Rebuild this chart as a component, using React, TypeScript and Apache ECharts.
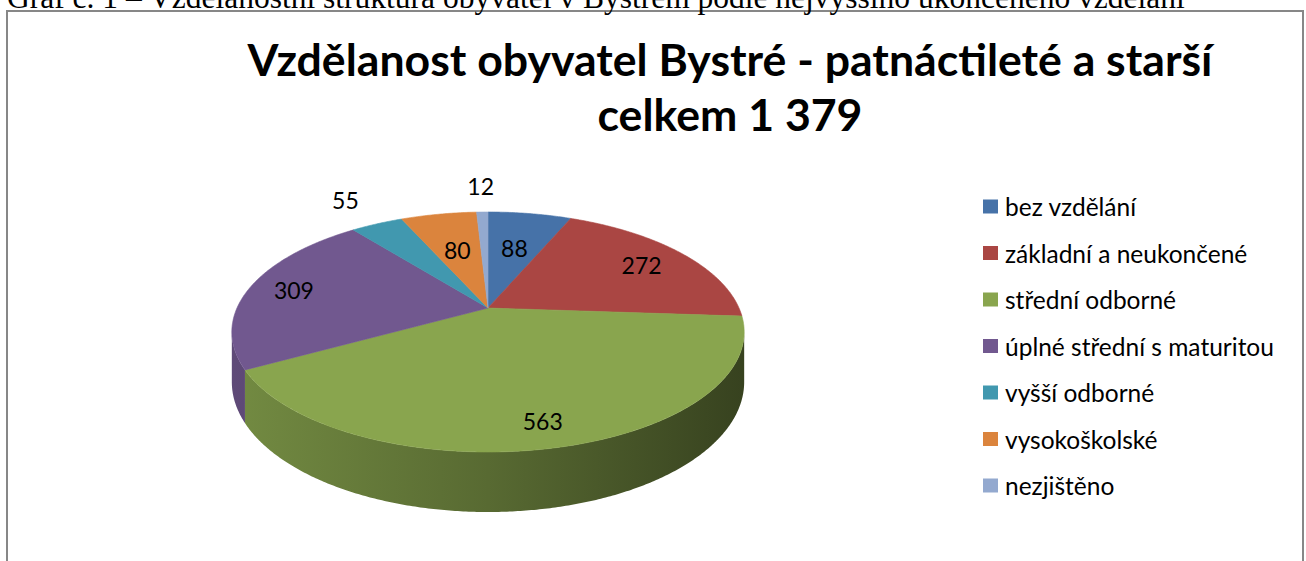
import React, { useEffect, useRef } from "react";
import * as echarts from "echarts";

const categories = [
  "bez vzdělání",
  "základní a neukončené",
  "střední odborné",
  "úplné střední s maturitou",
  "vyšší odborné",
  "vysokoškolské",
  "nezjištěno",
];
const values = [88, 272, 563, 309, 55, 80, 12];
const colors = ["#4672A8", "#AA4643", "#89A54E", "#71588F", "#4198AF", "#DB843D", "#93A9CF"];
const titleLines = ["Vzdělanost obyvatel Bystré - patnáctileté a starší", "celkem 1 379"];
const caption =
  "Graf č. 1 – Vzdělanostní struktura obyvatel v Bystřem podle nejvyššího ukončeného vzdělání";

// perspective projection of the unit disk
const CX = 488;
const PA = 308;
const PB = 53.6;
const PC = -0.2;
const PD = 251;
const DEPTH = 48;

function proj(u: number, v: number, drop = 0) {
  const d = 1 + PC * v;
  return [CX + (PD * u) / d, (PA + PB * v) / d + drop / d];
}
function polar(theta: number, r: number, drop = 0) {
  return proj(r * Math.sin(theta), -r * Math.cos(theta), drop);
}

function shade(hex: string, f: number) {
  const n = parseInt(hex.slice(1), 16);
  const r = Math.round(((n >> 16) & 255) * f);
  const g = Math.round(((n >> 8) & 255) * f);
  const b = Math.round((n & 255) * f);
  return `rgb(${r},${g},${b})`;
}

const total = values.reduce((a, b) => a + b, 0);
const THETA_S = Math.acos(PC); // visible front side range
const THETA_E = 2 * Math.PI - Math.acos(PC);

function makeRenderItem(idx: number) {
  return (params: any, api: any) => {
    const val = api.value(0);
    let start = 0;
    for (let k = 0; k < idx; k++) start += values[k];
    const a0 = (start / total) * 2 * Math.PI;
    const a1 = ((start + val) / total) * 2 * Math.PI;
    const color = colors[idx];
    const children: any[] = [];
    const step = Math.PI / 360;

    // side wall
    const lo = Math.max(a0, THETA_S);
    const hi = Math.min(a1, THETA_E);
    if (hi > lo) {
      const pts: number[][] = [];
      for (let t = lo; t < hi; t += step) pts.push(polar(t, 1));
      pts.push(polar(hi, 1));
      const bottom: number[][] = [];
      for (let t = lo; t < hi; t += step) bottom.push(polar(t, 1, DEPTH));
      bottom.push(polar(hi, 1, DEPTH));
      bottom.reverse();
      children.push({
        type: "polygon",
        z2: 1,
        shape: { points: pts.concat(bottom) },
        style: {
          fill: new echarts.graphic.LinearGradient(
            232,
            0,
            744,
            0,
            [
              { offset: 0, color: shade(color, 0.84) },
              { offset: 0.5, color: shade(color, 0.64) },
              { offset: 1, color: shade(color, 0.4) },
            ],
            true
          ),
          stroke: "none",
        },
      });
    }

    // top face
    const top: number[][] = [proj(0, 0)];
    for (let t = a0; t < a1; t += step) top.push(polar(t, 1));
    top.push(polar(a1, 1));
    children.push({
      type: "polygon",
      z2: 2,
      shape: { points: top },
      style: { fill: color, stroke: color, lineWidth: 0.6 },
    });

    // label
    const mid = (a0 + a1) / 2;
    const frac = val / total;
    const r = frac < 0.05 ? 1.35 : Math.min(0.84, 0.5 + 1.4 * frac);
    const lp = polar(mid, r);
    children.push({
      type: "text",
      z2: 10,
      x: lp[0],
      y: lp[1],
      style: {
        text: String(val),
        fill: "#000",
        font: '23px "Lato"',
        align: "center",
        verticalAlign: "middle",
      },
    });

    return { type: "group", children };
  };
}

export default function App() {
  const ref = useRef<HTMLDivElement>(null);
  useEffect(() => {
    if (!ref.current) return;
    const chart = echarts.init(ref.current, null, { renderer: "svg" });
    const series = categories.map((name, i) => ({
      type: "custom",
      name,
      coordinateSystem: "none",
      itemStyle: { color: colors[i] },
      data: [[values[i]]],
      renderItem: makeRenderItem(i),
      silent: true,
    }));
    chart.setOption({
      animation: false,
      backgroundColor: "#ffffff",
      color: colors,
      legend: {
        orient: "vertical",
        left: 978,
        top: 189,
        itemWidth: 15,
        itemHeight: 14,
        itemGap: 21.5,
        icon: "rect",
        selectedMode: false,
        data: categories,
        textStyle: {
          fontFamily: "Lato",
          fontSize: 24.5,
          lineHeight: 20,
          color: "#000",
          padding: [0, 0, 0, 2],
        },
      },
      graphic: [
        {
          type: "rect",
          shape: { x: 7, y: 11, width: 1296, height: 600 },
          style: { fill: "none", stroke: "#878787", lineWidth: 2 },
          z: -1,
        },
        {
          type: "text",
          x: 7,
          y: -3,
          style: {
            text: caption,
            font: '31.5px "Liberation Serif"',
            fill: "#000",
            align: "left",
            verticalAlign: "middle",
          },
        },
        {
          type: "text",
          x: 730,
          y: 58,
          style: {
            text: titleLines[0],
            font: 'bold 44.6px "Lato"',
            fill: "#000",
            align: "center",
            verticalAlign: "middle",
          },
        },
        {
          type: "text",
          x: 730,
          y: 113,
          style: {
            text: titleLines[1],
            font: 'bold 44.6px "Lato"',
            fill: "#000",
            align: "center",
            verticalAlign: "middle",
          },
        },
      ],
      series,
    });
    return () => chart.dispose();
  }, []);
  return (
    <div
      ref={ref}
      style={{ position: "fixed", left: 0, top: 0, width: 1306, height: 561 }}
    />
  );
}
